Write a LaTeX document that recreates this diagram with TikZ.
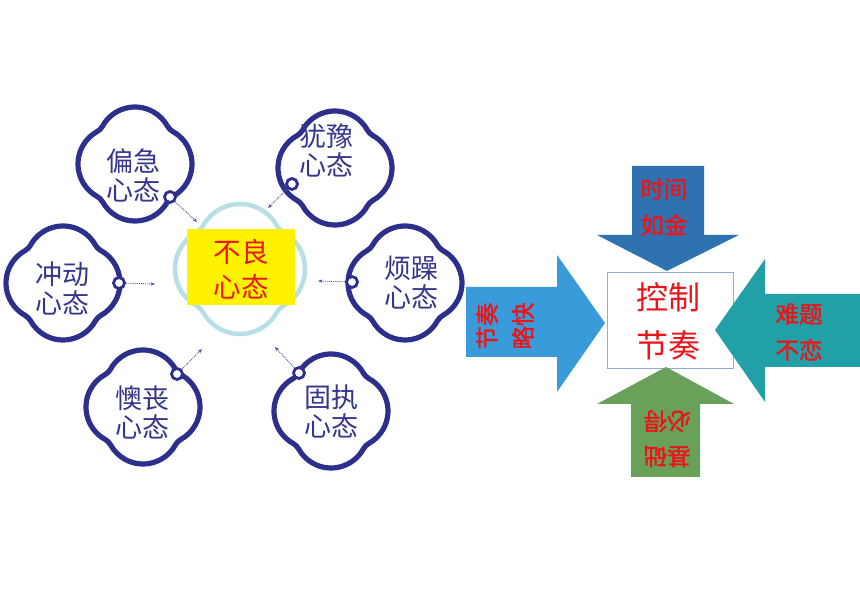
\documentclass[tikz,border=0pt]{standalone}
\usepackage{fontspec}
\setmainfont{Noto Sans CJK SC}
\newfontfamily\arrowfont[FakeBold=1.6]{Noto Sans CJK SC}
\usetikzlibrary{arrows.meta}
\definecolor{navy}{RGB}{45,47,140}
\definecolor{navytext}{RGB}{52,54,140}
\definecolor{lcyan}{RGB}{183,223,229}
\definecolor{dotgray}{RGB}{80,84,150}
\definecolor{txtred}{RGB}{235,20,25}
\definecolor{arrtop}{RGB}{46,115,176}
\definecolor{arrleft}{RGB}{58,155,218}
\definecolor{arrright}{RGB}{33,161,167}
\definecolor{arrbottom}{RGB}{106,161,90}
\definecolor{boxline}{RGB}{150,170,215}
\newcommand{\cloudshape}[4]{%
  \draw[#4,shift={(#1,#2)},scale=#3]
    (-0.5683,0.6655)
    arc[start angle=150.96,end angle=29.04,radius=0.65]
    arc[start angle=209.04,end angle=240.96,radius=0.25]
    arc[start angle=60.96,end angle=-60.96,radius=0.65]
    arc[start angle=119.04,end angle=150.96,radius=0.25]
    arc[start angle=-29.04,end angle=-150.96,radius=0.65]
    arc[start angle=29.04,end angle=60.96,radius=0.25]
    arc[start angle=240.96,end angle=119.04,radius=0.65]
    arc[start angle=-60.96,end angle=-29.04,radius=0.25]
    -- cycle;}
\begin{document}
\begin{tikzpicture}[x=1pt,y=1pt,
  cloud/.style={draw=navy,line width=5.2pt},
  ccloud/.style={draw=lcyan,line width=4.5pt},
  ctext/.style={text=navytext,font=\fontsize{27}{29}\selectfont,align=center,inner sep=0pt},
  marker/.style={circle,draw=navy,line width=2.8pt,fill=white,minimum size=11pt,inner sep=0pt},
  dotarrow/.style={densely dotted,draw=dotgray,line width=0.9pt,-{Stealth[length=4.5pt,width=3.5pt]}},
  atext/.style={text=txtred,font=\arrowfont\fontsize{23.5}{36}\selectfont,align=center,inner sep=0pt}]
\useasboundingbox (0,0) rectangle (860,609);
\fill[white] (0,0) rectangle (860,609);

% centre cloud and box
\cloudshape{240}{340}{65}{ccloud}
\node[fill=yellow,minimum width=108pt,minimum height=76pt,inner sep=0pt] (badbox) at (241,342) {};
\node[text=txtred,font=\fontsize{27.5}{35}\selectfont,align=center,inner sep=0pt] (bad) at (241,340) {不良\\心态};

% outer clouds
\cloudshape{135}{445}{57}{cloud}
\cloudshape{335}{441}{57}{cloud}
\cloudshape{63}{326}{57}{cloud}
\cloudshape{405}{326}{57}{cloud}
\cloudshape{143}{202}{57}{cloud}
\cloudshape{331}{198}{57}{cloud}

\node[ctext] (t1) at (133,434) {偏急\\心态};
\node[ctext] (t2) at (326,459) {犹豫\\心态};
\node[ctext] (t3) at (62,320) {冲动\\心态};
\node[ctext] (t4) at (411,326) {烦躁\\心态};
\node[ctext] (t5) at (142,197) {懊丧\\心态};
\node[ctext] (t6) at (331,198) {固执\\心态};

% markers and dotted arrows
\node[marker] (m1) at (170,412) {};
\node[marker] (m2) at (292,425) {};
\node[marker] (m3) at (119,326) {};
\node[marker] (m4) at (352,327) {};
\node[marker] (m5) at (177,235) {};
\node[marker] (m6) at (299,236) {};
\coordinate (e1) at (197,387);
\coordinate (e2) at (268,401);
\coordinate (e3) at (155,325);
\coordinate (e4) at (318,328);
\coordinate (e5) at (202,260);
\coordinate (e6) at (275,262);
\draw[dotarrow] (m1) -- (e1);
\draw[dotarrow] (m2) -- (e2);
\draw[dotarrow] (m3) -- (e3);
\draw[dotarrow] (m4) -- (e4);
\draw[dotarrow] (m5) -- (e5);
\draw[dotarrow] (m6) -- (e6);

% right part: central box
\node[draw=boxline,line width=0.8pt,fill=white,minimum width=126pt,minimum height=96pt,inner sep=0pt] (ctrlbox) at (670,289) {};
\node[text=txtred,font=\fontsize{32}{48}\selectfont,align=center,inner sep=0pt] (ctrl) at (668,288) {控制\\节奏};

% four arrows
\fill[arrtop] (632,443) -- (704,443) -- (704,374) -- (739,374) -- (667,338) -- (597,374) -- (632,374) -- cycle;
\fill[arrleft] (466,322) -- (557,322) -- (557,354) -- (605,286) -- (557,217) -- (557,252) -- (466,252) -- cycle;
\fill[arrright] (860,315) -- (765,315) -- (765,350) -- (715,279) -- (765,207) -- (765,242) -- (860,242) -- cycle;
\fill[arrbottom] (631,132) -- (700,132) -- (700,205) -- (734,205) -- (666,242) -- (597,205) -- (631,205) -- cycle;

\node[atext] (ttop) at (664,402) {时间\\如金};
\node[atext,rotate=90] (tleft) at (505,283) {节奏\\略快};
\node[atext] (tright) at (799,277) {难题\\不恋};
\node[atext,rotate=180,font=\arrowfont\fontsize{23.5}{35}\selectfont] (tbottom) at (667,170) {基础\\必得};
\end{tikzpicture}
\end{document}
